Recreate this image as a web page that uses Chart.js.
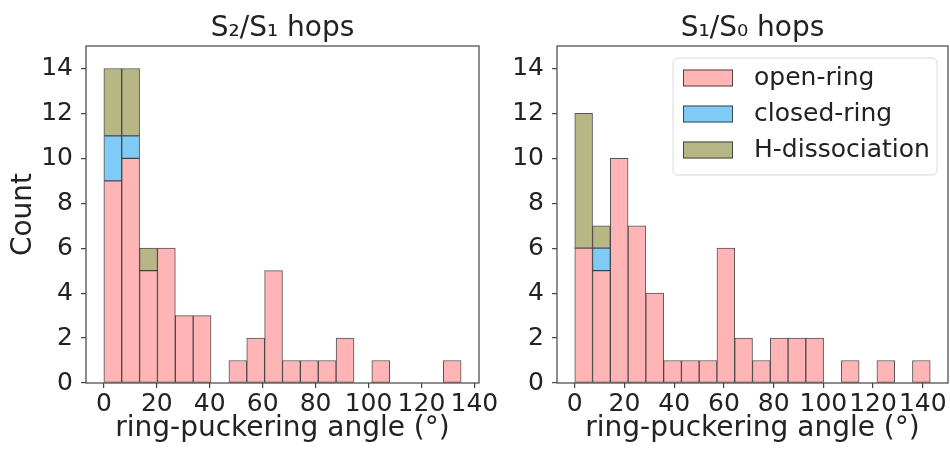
<!DOCTYPE html>
<html lang="en">
<head>
<meta charset="UTF-8">
<title>Ring-puckering angle at hops</title>
<script src="https://cdn.jsdelivr.net/npm/chart.js"></script>
<style>
  body { margin: 0; background: #fff; width: 950px; height: 453px; overflow: hidden; position: relative; }
  .panel { position: absolute; top: 0; height: 453px; }
  #left { left: 0; width: 500px; }
  #right { left: 500px; width: 450px; }
</style>
</head>
<body>
<div class="panel" id="left"><canvas id="leftChart"></canvas></div>
<div class="panel" id="right"><canvas id="rightChart"></canvas></div>
<script>
const seriesNames = ['open-ring', 'closed-ring', 'H-dissociation'];
const seriesColors = ['#ffb5b5', '#80cbf5', '#b6b784'];

// S2/S1 hops: 20 bins from 0 to 135
const s2s1BinWidth = 6.75;
const s2s1Open   = [9, 10, 5, 6, 3, 3, 0, 1, 2, 5, 1, 1, 1, 2, 0, 1, 0, 0, 0, 1];
const s2s1Closed = [2, 1, 0, 0, 0, 0, 0, 0, 0, 0, 0, 0, 0, 0, 0, 0, 0, 0, 0, 0];
const s2s1HDiss  = [3, 3, 1, 0, 0, 0, 0, 0, 0, 0, 0, 0, 0, 0, 0, 0, 0, 0, 0, 0];

// S1/S0 hops: 20 bins from 0 to 143
const s1s0BinWidth = 7.15;
const s1s0Open   = [6, 5, 10, 7, 4, 1, 1, 1, 6, 2, 1, 2, 2, 2, 0, 1, 0, 1, 0, 1];
const s1s0Closed = [0, 1, 0, 0, 0, 0, 0, 0, 0, 0, 0, 0, 0, 0, 0, 0, 0, 0, 0, 0];
const s1s0HDiss  = [6, 1, 0, 0, 0, 0, 0, 0, 0, 0, 0, 0, 0, 0, 0, 0, 0, 0, 0, 0];

const xTicks = [0, 20, 40, 60, 80, 100, 120, 140];
const yTicks = [0, 2, 4, 6, 8, 10, 12, 14];

Chart.defaults.font.family = '"DejaVu Sans", sans-serif';
Chart.defaults.color = '#222';

// matplotlib style box around the axes
const frame = {
  id: 'frame',
  afterDatasetsDraw(chart) {
    const a = chart.chartArea, ctx = chart.ctx;
    ctx.save();
    ctx.strokeStyle = '#444';
    ctx.lineWidth = 1.2;
    ctx.strokeRect(a.left, a.top, a.right - a.left, a.bottom - a.top);
    ctx.restore();
  }
};

// framed legend in the upper right corner
const boxLegend = {
  id: 'boxLegend',
  afterDatasetsDraw(chart) {
    const a = chart.chartArea, ctx = chart.ctx;
    const w = 264, h = 117, x = a.right - 11 - w, y = a.top + 12;
    ctx.save();
    ctx.beginPath();
    ctx.roundRect(x, y, w, h, 5);
    ctx.fillStyle = 'rgba(255,255,255,0.8)';
    ctx.fill();
    ctx.strokeStyle = '#d8d8d8';
    ctx.lineWidth = 1;
    ctx.stroke();
    ctx.font = '25px "DejaVu Sans"';
    ctx.textBaseline = 'middle';
    chart.data.datasets.forEach((ds, i) => {
      const cy = y + 20 + i * 36;
      ctx.fillStyle = ds.backgroundColor;
      ctx.fillRect(x + 10, cy - 8.5, 50, 17);
      ctx.strokeStyle = ds.borderColor;
      ctx.strokeRect(x + 10.5, cy - 8, 49, 16);
      ctx.fillStyle = '#222';
      ctx.fillText(ds.label, x + 81, cy);
    });
    ctx.restore();
  }
};

function makeHist(id, title, binWidth, series, o) {
  const centers = series[0].map((_, i) => (i + 0.5) * binWidth);
  const datasets = series.map((vals, k) => ({
    label: seriesNames[k],
    data: vals.map((v, i) => ({ x: centers[i], y: v || null })),
    backgroundColor: seriesColors[k],
    borderColor: 'rgba(40,40,40,0.8)',
    borderWidth: 1,
    borderSkipped: false,
    barPercentage: 1,
    categoryPercentage: 1
  }));

  return new Chart(document.getElementById(id), {
    type: 'bar',
    data: { datasets: datasets },
    plugins: o.legend ? [frame, boxLegend] : [frame],
    options: {
      responsive: true,
      maintainAspectRatio: false,
      animation: false,
      layout: { padding: { left: 0, right: o.padRight, top: 0, bottom: 0 } },
      plugins: {
        legend: { display: false },
        tooltip: { enabled: false },
        title: {
          display: true, text: title, fullSize: false,
          font: { size: 28, weight: 'normal' },
          padding: { top: 12, bottom: 0.4 }
        }
      },
      scales: {
        x: {
          type: 'linear', stacked: true, offset: false,
          min: o.xMin, max: o.xMax,
          afterBuildTicks: s => { s.ticks = xTicks.map(v => ({ value: v })); },
          afterFit: s => { s.height = 70; },
          border: { display: false },
          grid: { offset: false, drawOnChartArea: false, drawTicks: true, tickLength: 5, color: '#444', lineWidth: 1.2 },
          ticks: { font: { size: 25 }, padding: 1, maxRotation: 0, autoSkip: false },
          title: {
            display: true, text: 'ring-puckering angle (°)',
            font: { size: 28 }, padding: { top: 0, bottom: 7 }
          }
        },
        y: {
          stacked: true, min: 0, max: 15,
          afterBuildTicks: s => { s.ticks = yTicks.map(v => ({ value: v })); },
          afterFit: s => { s.width = o.yWidth; },
          border: { display: false },
          grid: { drawOnChartArea: false, drawTicks: true, tickLength: 5, color: '#444', lineWidth: 1.2 },
          ticks: { font: { size: 25 }, padding: 8 },
          title: {
            display: o.yTitle, text: 'Count',
            font: { size: 28 }, padding: { top: 6.5, bottom: 0 }
          }
        }
      }
    }
  });
}

makeHist('leftChart', 'S\u2082/S\u2081 hops', s2s1BinWidth, [s2s1Open, s2s1Closed, s2s1HDiss],
  { xMin: -6.75, xMax: 141.75, yWidth: 86, padRight: 21, yTitle: true, legend: false });
makeHist('rightChart', 'S\u2081/S\u2080 hops', s1s0BinWidth, [s1s0Open, s1s0Closed, s1s0HDiss],
  { xMin: -7.15, xMax: 150.15, yWidth: 57, padRight: 2, yTitle: false, legend: true });
</script>
</body>
</html>
